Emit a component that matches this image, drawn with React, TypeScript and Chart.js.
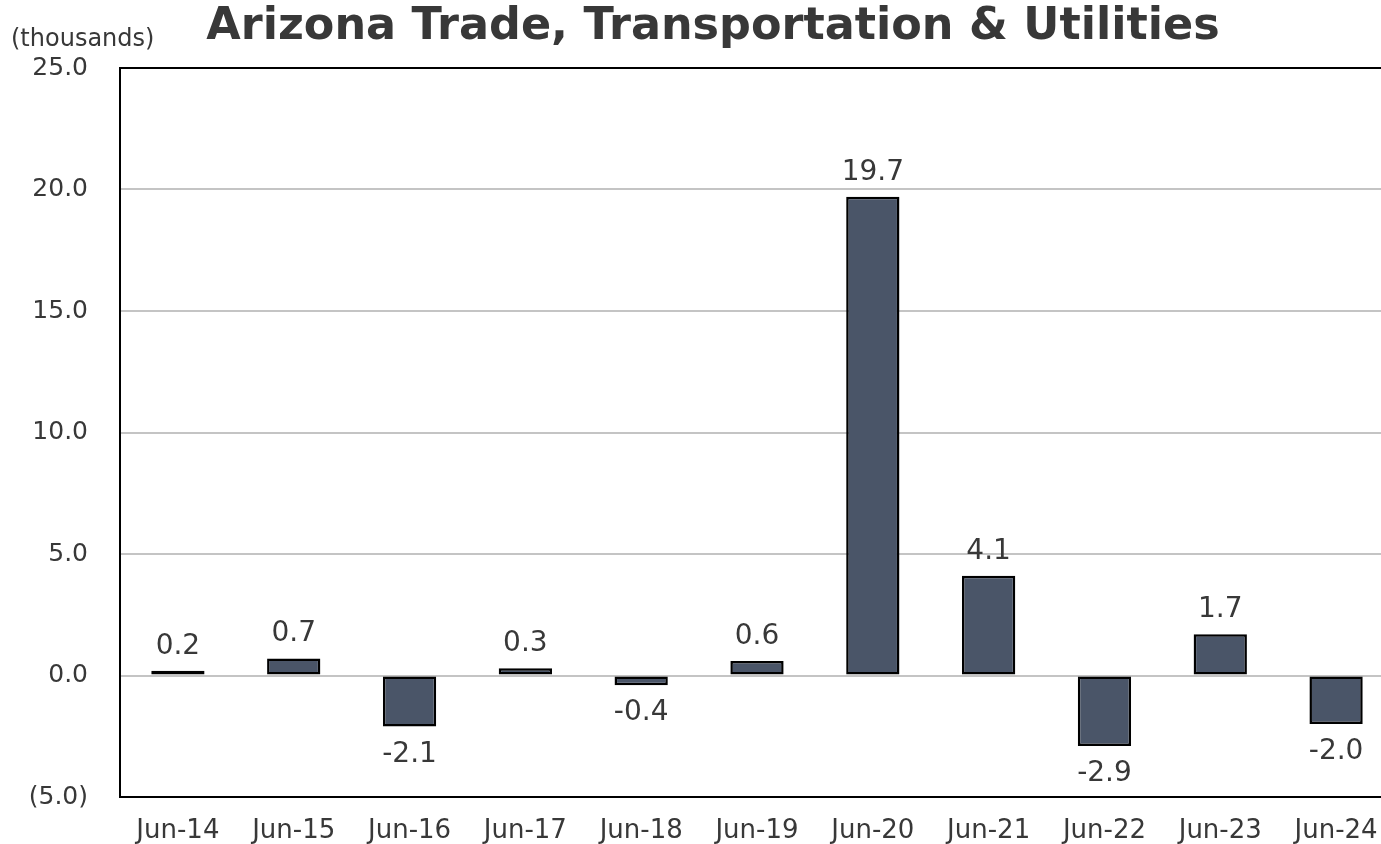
import React, { useEffect, useRef } from "react";
import { Chart, registerables } from "chart.js";

Chart.register(...registerables);

const categories = ["Jun-14", "Jun-15", "Jun-16", "Jun-17", "Jun-18", "Jun-19", "Jun-20", "Jun-21", "Jun-22", "Jun-23", "Jun-24"];
const values = [0.2, 0.7, -2.1, 0.3, -0.4, 0.6, 19.7, 4.1, -2.9, 1.7, -2.0];
const yMin = -5;
const yMax = 25;
const yStep = 5;
const titleText = "Arizona Trade, Transportation & Utilities";
const unitText = "(thousands)";

const FONT = "'DejaVu Sans', Verdana, sans-serif";
const TEXT = "#383838";

export default function App() {
  const ref = useRef<HTMLCanvasElement | null>(null);

  useEffect(() => {
    if (!ref.current) return;
    const overlay = {
      id: "overlay",
      afterDatasetsDraw(chart: any) {
        const ctx = chart.ctx;
        ctx.save();
        ctx.fillStyle = TEXT;
        ctx.font = `28px ${FONT}`;
        ctx.textAlign = "center";
        ctx.textBaseline = "alphabetic";
        const meta = chart.getDatasetMeta(0);
        meta.data.forEach((bar: any, i: number) => {
          const v = values[i];
          const label = v.toFixed(1);
          if (v >= 0) ctx.fillText(label, bar.x, bar.y - 17);
          else ctx.fillText(label, bar.x, bar.y + 35);
        });
        ctx.restore();
      },
      afterDraw(chart: any) {
        const ctx = chart.ctx;
        ctx.save();
        ctx.fillStyle = TEXT;
        ctx.font = `bold 44.5px ${FONT}`;
        ctx.textAlign = "center";
        ctx.textBaseline = "alphabetic";
        ctx.fillText(titleText, 713, 39);
        ctx.font = `24px ${FONT}`;
        ctx.textAlign = "left";
        ctx.textBaseline = "middle";
        ctx.fillText(unitText, 11, 40);
        ctx.restore();
      },
    };

    const chart = new Chart(ref.current, {
      type: "bar",
      data: {
        labels: categories,
        datasets: [
          {
            data: values,
            backgroundColor: "#4a5568",
            borderColor: "#000000",
            borderWidth: 2.5,
            borderSkipped: false,
            categoryPercentage: 1,
            barPercentage: 0.46,
          },
        ],
      },
      options: {
        responsive: false,
        animation: false,
        layout: { padding: { top: 68, right: 26, bottom: 0, left: 0 } },
        plugins: {
          legend: { display: false },
          title: { display: false },
          tooltip: { enabled: false },
        },
        scales: {
          x: {
            grid: { display: false, drawTicks: false },
            border: { display: true, color: "#000000", width: 2 },
            ticks: {
              color: TEXT,
              font: { family: FONT, size: 26 },
              padding: 19,
              maxRotation: 0,
              autoSkip: false,
            },
            afterFit(scale: any) {
              scale.height = 47;
            },
          },
          y: {
            min: yMin,
            max: yMax,
            grid: {
              drawTicks: false,
              lineWidth: 2,
              color: (c: any) => (c.tick && (c.tick.value === yMax || c.tick.value === yMin) ? "#000000" : "#c4c4c4"),
            },
            border: { display: true, color: "#000000", width: 2 },
            ticks: {
              stepSize: yStep,
              color: TEXT,
              font: { family: FONT, size: 25 },
              padding: 32,
              callback: (v: any) => (v < 0 ? `(${Math.abs(v).toFixed(1)})` : Number(v).toFixed(1)),
            },
            afterFit(scale: any) {
              scale.width = 120;
            },
          },
        },
      },
      plugins: [overlay],
    });
    return () => chart.destroy();
  }, []);

  return (
    <div style={{ position: "fixed", left: 0, top: 0, width: 1381, height: 844, overflow: "hidden", background: "#fff" }}>
      <canvas ref={ref} width={1420} height={844} style={{ display: "block" }} />
    </div>
  );
}
